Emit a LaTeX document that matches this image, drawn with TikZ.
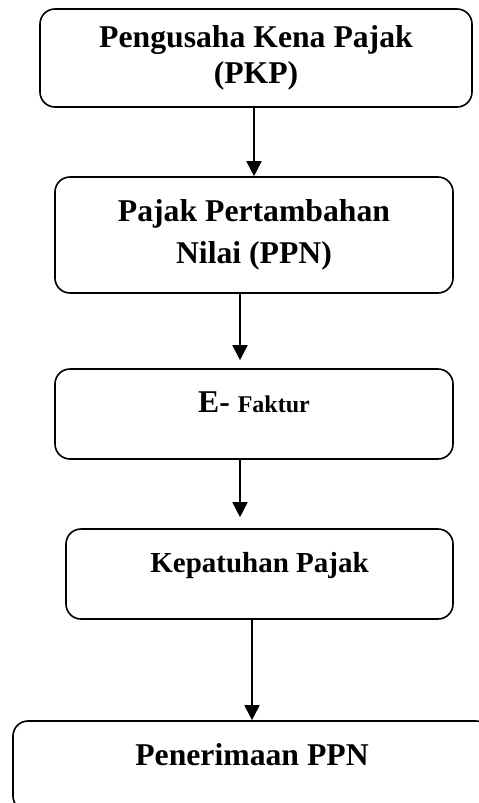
\documentclass[tikz,border=0pt]{standalone}
\usepackage{fontspec}
\setmainfont{Liberation Serif}
\usetikzlibrary{arrows.meta}

\tikzset{
  box/.style={draw, line width=1.6pt, rounded corners=15pt, align=center,
    font=\bfseries\fontsize{31.7}{36}\selectfont},
  lowbox/.style={box, text depth=23pt},
  flow/.style={line width=1.6pt, -{Triangle[length=15pt,width=15pt]}}
}

\begin{document}
\begin{tikzpicture}[x=1pt,y=-1pt]
    \useasboundingbox (0,0) rectangle (479,803);
    \clip (0,0) rectangle (479,803);

    %PKP
    \node (pkp) at (256,58) [box, minimum width=432pt, minimum height=98pt]
        {Pengusaha Kena Pajak\\(PKP)};

    %PPN
    \node (ppn) at (254,235) [box, minimum width=398pt, minimum height=116pt,
        font=\bfseries\fontsize{31.7}{41.6}\selectfont]
        {Pajak Pertambahan\\Nilai (PPN)};

    %E-FAKTUR
    \node (ef) at (254,414) [lowbox, minimum width=398pt, minimum height=90pt]
        {E- {\fontsize{24}{28}\selectfont Faktur}};

    %KEPATUHAN
    \node (kp) at (259.5,574) [lowbox, minimum width=387pt, minimum height=90pt,
        font=\bfseries\fontsize{29}{34}\selectfont]
        {Kepatuhan Pajak};

    %PENERIMAAN
    \node (pn) at (252,766) [lowbox, minimum width=478pt, minimum height=90pt]
        {Penerimaan PPN};

    %ARROWS
    \draw [flow] (pkp.south -| ppn.north) -- (ppn.north);
    \draw [flow, shorten >=8pt] ([xshift=-14pt]ppn.south) -- ([xshift=-14pt]ppn.south |- ef.north);
    \draw [flow, shorten >=11pt] ([xshift=-14pt]ef.south) -- ([xshift=-14pt]ef.south |- kp.north);
    \draw [flow] (kp.south -| pn.north) -- (pn.north);

\end{tikzpicture}
\end{document}
